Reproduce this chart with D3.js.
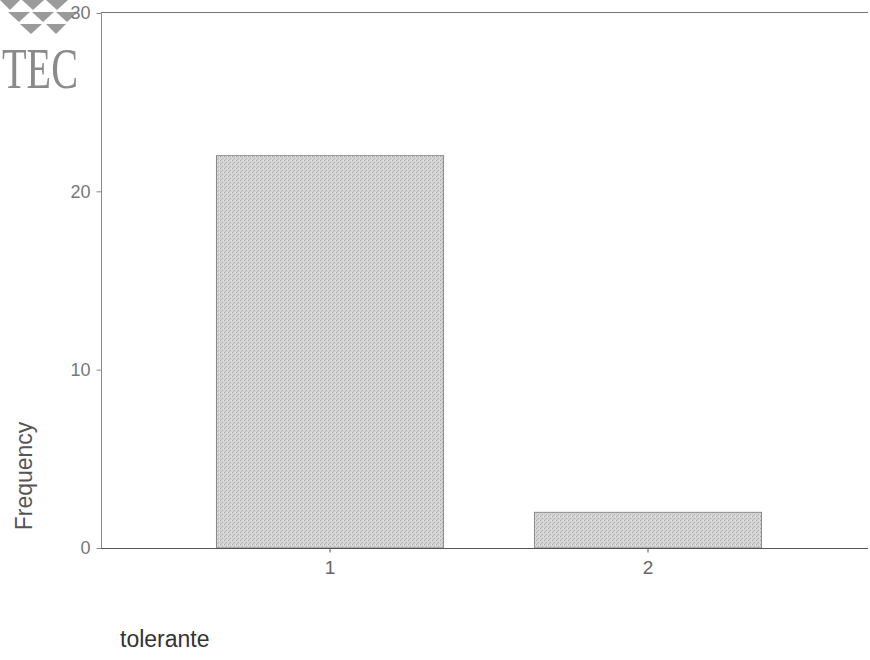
<!DOCTYPE html>
<html><head><meta charset="utf-8">
<script src="https://cdn.jsdelivr.net/npm/d3@7"></script>
<style>body{margin:0;background:#fff;} text{font-family:"Liberation Sans",Arial,sans-serif;}</style>
</head><body><svg id="c" width="870" height="660"></svg>
<script>
const categories = ["1","2"];
const frequencies = [22, 2];
const yTicks = [0, 10, 20, 30];

const svg = d3.select("#c");
const y = d3.scaleLinear().domain([0,30]).range([548,13]);
const x = d3.scaleBand().domain(categories).range([171,807]).paddingInner(0.286).paddingOuter(0.143);

// pattern for scanned-gray fill
const defs = svg.append("defs");
const pat = defs.append("pattern").attr("id","stip").attr("width",4).attr("height",4).attr("patternUnits","userSpaceOnUse");
pat.append("rect").attr("width",4).attr("height",4).attr("fill","#d4d4d4");
pat.append("rect").attr("x",0).attr("y",0).attr("width",1).attr("height",1).attr("fill","#a8a8a8");
pat.append("rect").attr("x",2).attr("y",2).attr("width",1).attr("height",1).attr("fill","#b0b0b0");
pat.append("rect").attr("x",3).attr("y",0).attr("width",1).attr("height",1).attr("fill","#e8e8e8");
pat.append("rect").attr("x",1).attr("y",3).attr("width",1).attr("height",1).attr("fill","#bdbdbd");

// logo
const logo = svg.append("g").attr("fill","#9a9a9a");
const tris = [[0,0,20,0,10,10],[22,0,44,0,33,10],[46,0,68,0,57,10],[8,12,30,12,19,22],[32,12,54,12,43,22],[56,12,78,12,67,22],[20,24,42,24,31,34],[46,24,66,24,56,34]];
logo.selectAll("polygon").data(tris).join("polygon").attr("points",d=>`${d[0]},${d[1]} ${d[2]},${d[3]} ${d[4]},${d[5]}`);
svg.append("text").attr("x",2).attr("y",88).attr("fill","#8a8a8a")
  .attr("textLength",76).attr("lengthAdjust","spacingAndGlyphs")
  .style("font-family","'Liberation Serif','DejaVu Serif',serif").style("font-size","58px").text("TEC");

// bars
svg.selectAll("rect.bar").data(frequencies).join("rect").attr("class","bar")
  .attr("x",(d,i)=>x(categories[i])).attr("width",x.bandwidth())
  .attr("y",d=>y(d)).attr("height",d=>y(0)-y(d))
  .attr("fill","url(#stip)").attr("stroke","#8a8a8a").attr("stroke-width",1);

// frame lines
svg.append("line").attr("x1",101).attr("x2",868).attr("y1",12.5).attr("y2",12.5).attr("stroke","#777");
// y axis
const ya = svg.append("g").attr("transform","translate(101.5,0)")
  .call(d3.axisLeft(y).tickValues(yTicks).tickSize(5).tickPadding(6).tickFormat(d3.format("d")));
ya.select(".domain").attr("stroke","#8a8a8a").attr("d","M-5,13.5H0V548.5");
ya.selectAll(".tick line").attr("stroke","#888");
ya.selectAll(".tick text").attr("fill","#777").style("font-size","18px").style("font-family","'Liberation Sans',Arial,sans-serif");
ya.selectAll(".tick").filter(d=>d===30).select("line").remove();
// x axis
const xa = svg.append("g").attr("transform","translate(0,548.5)")
  .call(d3.axisBottom(x).tickSize(4).tickPadding(8));
xa.select(".domain").attr("stroke","#555").attr("d","M101,0H868");
xa.selectAll(".tick line").attr("stroke","#555");
xa.selectAll(".tick text").attr("fill","#666").style("font-size","19px").style("font-family","'Liberation Sans',Arial,sans-serif");

// titles
svg.append("text").attr("transform","translate(32,476) rotate(-90)").attr("text-anchor","middle")
  .attr("fill","#555").style("font-size","23px").text("Frequency");
svg.append("text").attr("x",120).attr("y",647).attr("fill","#333").style("font-size","23px").text("tolerante");
</script></body></html>
